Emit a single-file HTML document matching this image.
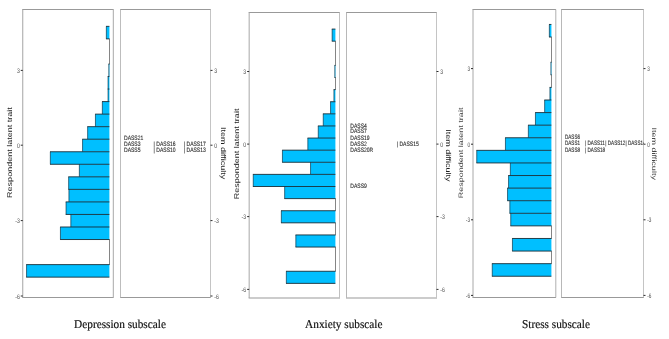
<!DOCTYPE html>
<html><head><meta charset="utf-8"><title>Wright maps</title><style>
html,body{margin:0;padding:0;background:#fff;}
body{width:669px;height:339px;overflow:hidden;}
svg{display:block;will-change:transform;}
text{font-family:"Liberation Sans",sans-serif;text-rendering:geometricPrecision;}
.tk{font-size:6.6px;fill:#4d4d4d;}
.tt{font-size:9.0px;fill:#1a1a1a;}
.it{font-size:6.3px;fill:#2a2a2a;stroke:#2a2a2a;stroke-width:0.12px;}
.cap{font-family:"Liberation Serif",serif;font-size:12px;fill:#111;stroke:#111;stroke-width:0.18px;}
</style></head>
<body>
<svg width="669" height="339" viewBox="0 0 669 339">
<rect width="100%" height="100%" fill="#fff"/>
<line x1="22.25" y1="9.5" x2="113.6" y2="9.5" stroke="#999" stroke-width="1"/>
<line x1="22.25" y1="297.5" x2="113.6" y2="297.5" stroke="#999" stroke-width="1"/>
<line x1="120.0" y1="9.5" x2="211.0" y2="9.5" stroke="#999" stroke-width="1"/>
<line x1="120.0" y1="297.5" x2="211.0" y2="297.5" stroke="#999" stroke-width="1"/>
<line x1="22.75" y1="9.5" x2="22.75" y2="297.5" stroke="#a4a4a4" stroke-width="1"/>
<line x1="113.3" y1="9.5" x2="113.3" y2="297.5" stroke="#a8a8a8" stroke-width="1"/>
<line x1="120.5" y1="9.5" x2="120.5" y2="297.5" stroke="#bdbdbd" stroke-width="1"/>
<line x1="210.5" y1="9.5" x2="210.5" y2="297.5" stroke="#c4c4c4" stroke-width="1"/>
<line x1="109.5" y1="38.49" x2="109.5" y2="51.83" stroke="#858585" stroke-width="1"/>
<line x1="109.5" y1="51.03" x2="109.5" y2="64.37" stroke="#858585" stroke-width="1"/>
<line x1="109.5" y1="239.13" x2="109.5" y2="252.47" stroke="#858585" stroke-width="1"/>
<line x1="109.5" y1="251.67" x2="109.5" y2="265.01" stroke="#858585" stroke-width="1"/>
<rect x="106.3" y="26.35" width="3.10" height="12.54" fill="#00bfff"/>
<line x1="106.35" y1="26.35" x2="106.35" y2="38.89" stroke="#0e3a4e" stroke-width="0.7"/>
<rect x="108.8" y="63.97" width="0.60" height="12.54" fill="#00bfff"/>
<line x1="108.85" y1="63.97" x2="108.85" y2="76.51" stroke="#0e3a4e" stroke-width="0.7"/>
<rect x="108.0" y="76.51" width="1.40" height="12.54" fill="#00bfff"/>
<line x1="108.05" y1="76.51" x2="108.05" y2="89.05" stroke="#0e3a4e" stroke-width="0.7"/>
<rect x="108.0" y="89.05" width="1.40" height="12.54" fill="#00bfff"/>
<line x1="108.05" y1="89.05" x2="108.05" y2="101.59" stroke="#0e3a4e" stroke-width="0.7"/>
<rect x="102.3" y="101.59" width="7.10" height="12.54" fill="#00bfff"/>
<line x1="102.35" y1="101.59" x2="102.35" y2="114.13" stroke="#0e3a4e" stroke-width="0.7"/>
<rect x="95.4" y="114.13" width="14.00" height="12.54" fill="#00bfff"/>
<line x1="95.45" y1="114.13" x2="95.45" y2="126.67" stroke="#0e3a4e" stroke-width="0.7"/>
<rect x="87.6" y="126.67" width="21.80" height="12.54" fill="#00bfff"/>
<line x1="87.65" y1="126.67" x2="87.65" y2="139.21" stroke="#0e3a4e" stroke-width="0.7"/>
<rect x="82.5" y="139.21" width="26.90" height="12.54" fill="#00bfff"/>
<line x1="82.55" y1="139.21" x2="82.55" y2="151.75" stroke="#0e3a4e" stroke-width="0.7"/>
<rect x="50.3" y="151.75" width="59.10" height="12.54" fill="#00bfff"/>
<line x1="50.35" y1="151.75" x2="50.35" y2="164.29" stroke="#0e3a4e" stroke-width="0.7"/>
<rect x="79.3" y="164.29" width="30.10" height="12.54" fill="#00bfff"/>
<line x1="79.35" y1="164.29" x2="79.35" y2="176.83" stroke="#0e3a4e" stroke-width="0.7"/>
<rect x="68.6" y="176.83" width="40.80" height="12.54" fill="#00bfff"/>
<line x1="68.65" y1="176.83" x2="68.65" y2="189.37" stroke="#0e3a4e" stroke-width="0.7"/>
<rect x="68.9" y="189.37" width="40.50" height="12.54" fill="#00bfff"/>
<line x1="68.95" y1="189.37" x2="68.95" y2="201.91" stroke="#0e3a4e" stroke-width="0.7"/>
<rect x="66.0" y="201.91" width="43.40" height="12.54" fill="#00bfff"/>
<line x1="66.05" y1="201.91" x2="66.05" y2="214.45" stroke="#0e3a4e" stroke-width="0.7"/>
<rect x="70.8" y="214.45" width="38.60" height="12.54" fill="#00bfff"/>
<line x1="70.85" y1="214.45" x2="70.85" y2="226.99" stroke="#0e3a4e" stroke-width="0.7"/>
<rect x="60.4" y="226.99" width="49.00" height="12.54" fill="#00bfff"/>
<line x1="60.45" y1="226.99" x2="60.45" y2="239.53" stroke="#0e3a4e" stroke-width="0.7"/>
<rect x="26.5" y="264.61" width="82.90" height="12.54" fill="#00bfff"/>
<line x1="26.55" y1="264.61" x2="26.55" y2="277.15" stroke="#0e3a4e" stroke-width="0.7"/>
<line x1="106.00" y1="26.35" x2="109.40" y2="26.35" stroke="#13232c" stroke-width="0.85"/>
<line x1="106.00" y1="38.89" x2="109.40" y2="38.89" stroke="#13232c" stroke-width="0.85"/>
<line x1="108.50" y1="63.97" x2="109.40" y2="63.97" stroke="#13232c" stroke-width="0.85"/>
<line x1="107.70" y1="76.51" x2="109.40" y2="76.51" stroke="#13232c" stroke-width="0.85"/>
<line x1="107.70" y1="89.05" x2="109.40" y2="89.05" stroke="#13232c" stroke-width="0.85"/>
<line x1="102.00" y1="101.59" x2="109.40" y2="101.59" stroke="#13232c" stroke-width="0.85"/>
<line x1="95.10" y1="114.13" x2="109.40" y2="114.13" stroke="#13232c" stroke-width="0.85"/>
<line x1="87.30" y1="126.67" x2="109.40" y2="126.67" stroke="#13232c" stroke-width="0.85"/>
<line x1="82.20" y1="139.21" x2="109.40" y2="139.21" stroke="#13232c" stroke-width="0.85"/>
<line x1="50.00" y1="151.75" x2="109.40" y2="151.75" stroke="#13232c" stroke-width="0.85"/>
<line x1="50.00" y1="164.29" x2="109.40" y2="164.29" stroke="#13232c" stroke-width="0.85"/>
<line x1="68.30" y1="176.83" x2="109.40" y2="176.83" stroke="#13232c" stroke-width="0.85"/>
<line x1="68.30" y1="189.37" x2="109.40" y2="189.37" stroke="#13232c" stroke-width="0.85"/>
<line x1="65.70" y1="201.91" x2="109.40" y2="201.91" stroke="#13232c" stroke-width="0.85"/>
<line x1="65.70" y1="214.45" x2="109.40" y2="214.45" stroke="#13232c" stroke-width="0.85"/>
<line x1="60.10" y1="226.99" x2="109.40" y2="226.99" stroke="#13232c" stroke-width="0.85"/>
<line x1="60.10" y1="239.53" x2="109.40" y2="239.53" stroke="#13232c" stroke-width="0.85"/>
<line x1="26.20" y1="264.61" x2="109.40" y2="264.61" stroke="#13232c" stroke-width="0.85"/>
<line x1="26.20" y1="277.15" x2="109.40" y2="277.15" stroke="#13232c" stroke-width="0.85"/>
<line x1="20.75" y1="70.4" x2="22.75" y2="70.4" stroke="#2a2a2a" stroke-width="1"/>
<line x1="210.5" y1="70.4" x2="212.5" y2="70.4" stroke="#2a2a2a" stroke-width="1"/>
<text transform="translate(19.75,73.00) scale(0.780,1)" text-anchor="end" class="tk">3</text>
<text transform="translate(214.30,73.00) scale(0.780,1)" class="tk">3</text>
<line x1="20.75" y1="145.2" x2="22.75" y2="145.2" stroke="#2a2a2a" stroke-width="1"/>
<line x1="210.5" y1="145.2" x2="212.5" y2="145.2" stroke="#2a2a2a" stroke-width="1"/>
<text transform="translate(19.75,147.80) scale(0.780,1)" text-anchor="end" class="tk">0</text>
<text transform="translate(214.30,147.80) scale(0.780,1)" class="tk">0</text>
<line x1="20.75" y1="220.6" x2="22.75" y2="220.6" stroke="#2a2a2a" stroke-width="1"/>
<line x1="210.5" y1="220.6" x2="212.5" y2="220.6" stroke="#2a2a2a" stroke-width="1"/>
<text transform="translate(19.75,223.20) scale(0.780,1)" text-anchor="end" class="tk">-3</text>
<text transform="translate(214.30,223.20) scale(0.780,1)" class="tk">-3</text>
<line x1="20.75" y1="296.0" x2="22.75" y2="296.0" stroke="#2a2a2a" stroke-width="1"/>
<line x1="210.5" y1="296.0" x2="212.5" y2="296.0" stroke="#2a2a2a" stroke-width="1"/>
<text transform="translate(19.75,298.60) scale(0.780,1)" text-anchor="end" class="tk">-6</text>
<text transform="translate(214.30,298.60) scale(0.780,1)" class="tk">-6</text>
<text transform="translate(12.2,152.6) rotate(-90) scale(1,0.780)" text-anchor="middle" class="tt">Respondent latent trait</text>
<text transform="translate(220.6,153.1) rotate(90) scale(1,0.780)" text-anchor="middle" class="tt">Item difficulty</text>
<clipPath id="c0"><rect x="120.5" y="9.5" width="90.00" height="288.00"/></clipPath><g clip-path="url(#c0)">
<text transform="translate(124.0,140.47) scale(0.800,1)" class="it">DASS21</text>
<text transform="translate(124.0,145.52) scale(0.800,1)" class="it">DASS3</text>
<text transform="translate(124.0,151.62) scale(0.800,1)" class="it">DASS5</text>
<text transform="translate(153.6,145.52) scale(0.800,1)" class="it">| DASS16</text>
<text transform="translate(153.6,151.62) scale(0.800,1)" class="it">| DASS10</text>
<text transform="translate(183.8,145.52) scale(0.800,1)" class="it">| DASS17</text>
<text transform="translate(183.8,151.62) scale(0.800,1)" class="it">| DASS13</text>
</g>
<text transform="translate(120.0,327.8) scale(0.94,1)" text-anchor="middle" class="cap">Depression subscale</text>
<line x1="248.66" y1="12.5" x2="340.0" y2="12.5" stroke="#999" stroke-width="1"/>
<line x1="248.66" y1="298.0" x2="340.0" y2="298.0" stroke="#999" stroke-width="1"/>
<line x1="346.0" y1="12.5" x2="437.0" y2="12.5" stroke="#999" stroke-width="1"/>
<line x1="346.0" y1="298.0" x2="437.0" y2="298.0" stroke="#999" stroke-width="1"/>
<line x1="249.16" y1="12.5" x2="249.16" y2="298.0" stroke="#a8a8a8" stroke-width="1"/>
<line x1="339.5" y1="12.5" x2="339.5" y2="298.0" stroke="#c0c0c0" stroke-width="1"/>
<line x1="346.5" y1="12.5" x2="346.5" y2="298.0" stroke="#b8b8b8" stroke-width="1"/>
<line x1="436.5" y1="12.5" x2="436.5" y2="298.0" stroke="#c4c4c4" stroke-width="1"/>
<line x1="335.5" y1="40.78" x2="335.5" y2="53.69" stroke="#858585" stroke-width="1"/>
<line x1="335.5" y1="52.89" x2="335.5" y2="65.80" stroke="#858585" stroke-width="1"/>
<line x1="335.5" y1="77.11" x2="335.5" y2="90.02" stroke="#858585" stroke-width="1"/>
<line x1="335.5" y1="198.21" x2="335.5" y2="211.12" stroke="#858585" stroke-width="1"/>
<line x1="335.5" y1="222.43" x2="335.5" y2="235.34" stroke="#858585" stroke-width="1"/>
<line x1="335.5" y1="246.65" x2="335.5" y2="259.56" stroke="#858585" stroke-width="1"/>
<line x1="335.5" y1="258.76" x2="335.5" y2="271.67" stroke="#858585" stroke-width="1"/>
<rect x="332.1" y="29.07" width="3.30" height="12.11" fill="#00bfff"/>
<line x1="332.15" y1="29.07" x2="332.15" y2="41.18" stroke="#0e3a4e" stroke-width="0.7"/>
<rect x="334.8" y="65.40" width="0.60" height="12.11" fill="#00bfff"/>
<line x1="334.85" y1="65.40" x2="334.85" y2="77.51" stroke="#0e3a4e" stroke-width="0.7"/>
<rect x="333.9" y="89.62" width="1.50" height="12.11" fill="#00bfff"/>
<line x1="333.95" y1="89.62" x2="333.95" y2="101.73" stroke="#0e3a4e" stroke-width="0.7"/>
<rect x="330.5" y="101.73" width="4.90" height="12.11" fill="#00bfff"/>
<line x1="330.55" y1="101.73" x2="330.55" y2="113.84" stroke="#0e3a4e" stroke-width="0.7"/>
<rect x="323.2" y="113.84" width="12.20" height="12.11" fill="#00bfff"/>
<line x1="323.25" y1="113.84" x2="323.25" y2="125.95" stroke="#0e3a4e" stroke-width="0.7"/>
<rect x="318.2" y="125.95" width="17.20" height="12.11" fill="#00bfff"/>
<line x1="318.25" y1="125.95" x2="318.25" y2="138.06" stroke="#0e3a4e" stroke-width="0.7"/>
<rect x="307.8" y="138.06" width="27.60" height="12.11" fill="#00bfff"/>
<line x1="307.85" y1="138.06" x2="307.85" y2="150.17" stroke="#0e3a4e" stroke-width="0.7"/>
<rect x="282.4" y="150.17" width="53.00" height="12.11" fill="#00bfff"/>
<line x1="282.45" y1="150.17" x2="282.45" y2="162.28" stroke="#0e3a4e" stroke-width="0.7"/>
<rect x="310.5" y="162.28" width="24.90" height="12.11" fill="#00bfff"/>
<line x1="310.55" y1="162.28" x2="310.55" y2="174.39" stroke="#0e3a4e" stroke-width="0.7"/>
<rect x="253.2" y="174.39" width="82.20" height="12.11" fill="#00bfff"/>
<line x1="253.25" y1="174.39" x2="253.25" y2="186.50" stroke="#0e3a4e" stroke-width="0.7"/>
<rect x="284.6" y="186.50" width="50.80" height="12.11" fill="#00bfff"/>
<line x1="284.65" y1="186.50" x2="284.65" y2="198.61" stroke="#0e3a4e" stroke-width="0.7"/>
<rect x="281.3" y="210.72" width="54.10" height="12.11" fill="#00bfff"/>
<line x1="281.35" y1="210.72" x2="281.35" y2="222.83" stroke="#0e3a4e" stroke-width="0.7"/>
<rect x="295.8" y="234.94" width="39.60" height="12.11" fill="#00bfff"/>
<line x1="295.85" y1="234.94" x2="295.85" y2="247.05" stroke="#0e3a4e" stroke-width="0.7"/>
<rect x="286.3" y="271.27" width="49.10" height="12.11" fill="#00bfff"/>
<line x1="286.35" y1="271.27" x2="286.35" y2="283.38" stroke="#0e3a4e" stroke-width="0.7"/>
<line x1="331.80" y1="29.07" x2="335.40" y2="29.07" stroke="#13232c" stroke-width="0.85"/>
<line x1="331.80" y1="41.18" x2="335.40" y2="41.18" stroke="#13232c" stroke-width="0.85"/>
<line x1="334.50" y1="65.40" x2="335.40" y2="65.40" stroke="#13232c" stroke-width="0.85"/>
<line x1="334.50" y1="77.51" x2="335.40" y2="77.51" stroke="#13232c" stroke-width="0.85"/>
<line x1="333.60" y1="89.62" x2="335.40" y2="89.62" stroke="#13232c" stroke-width="0.85"/>
<line x1="330.20" y1="101.73" x2="335.40" y2="101.73" stroke="#13232c" stroke-width="0.85"/>
<line x1="322.90" y1="113.84" x2="335.40" y2="113.84" stroke="#13232c" stroke-width="0.85"/>
<line x1="317.90" y1="125.95" x2="335.40" y2="125.95" stroke="#13232c" stroke-width="0.85"/>
<line x1="307.50" y1="138.06" x2="335.40" y2="138.06" stroke="#13232c" stroke-width="0.85"/>
<line x1="282.10" y1="150.17" x2="335.40" y2="150.17" stroke="#13232c" stroke-width="0.85"/>
<line x1="282.10" y1="162.28" x2="335.40" y2="162.28" stroke="#13232c" stroke-width="0.85"/>
<line x1="252.90" y1="174.39" x2="335.40" y2="174.39" stroke="#13232c" stroke-width="0.85"/>
<line x1="252.90" y1="186.50" x2="335.40" y2="186.50" stroke="#13232c" stroke-width="0.85"/>
<line x1="284.30" y1="198.61" x2="335.40" y2="198.61" stroke="#13232c" stroke-width="0.85"/>
<line x1="281.00" y1="210.72" x2="335.40" y2="210.72" stroke="#13232c" stroke-width="0.85"/>
<line x1="281.00" y1="222.83" x2="335.40" y2="222.83" stroke="#13232c" stroke-width="0.85"/>
<line x1="295.50" y1="234.94" x2="335.40" y2="234.94" stroke="#13232c" stroke-width="0.85"/>
<line x1="295.50" y1="247.05" x2="335.40" y2="247.05" stroke="#13232c" stroke-width="0.85"/>
<line x1="286.00" y1="271.27" x2="335.40" y2="271.27" stroke="#13232c" stroke-width="0.85"/>
<line x1="286.00" y1="283.38" x2="335.40" y2="283.38" stroke="#13232c" stroke-width="0.85"/>
<line x1="247.16" y1="71.5" x2="249.16" y2="71.5" stroke="#2a2a2a" stroke-width="1"/>
<line x1="436.5" y1="71.5" x2="438.5" y2="71.5" stroke="#2a2a2a" stroke-width="1"/>
<text transform="translate(246.16,74.10) scale(0.780,1)" text-anchor="end" class="tk">3</text>
<text transform="translate(440.30,74.10) scale(0.780,1)" class="tk">3</text>
<line x1="247.16" y1="144.1" x2="249.16" y2="144.1" stroke="#2a2a2a" stroke-width="1"/>
<line x1="436.5" y1="144.1" x2="438.5" y2="144.1" stroke="#2a2a2a" stroke-width="1"/>
<text transform="translate(246.16,146.70) scale(0.780,1)" text-anchor="end" class="tk">0</text>
<text transform="translate(440.30,146.70) scale(0.780,1)" class="tk">0</text>
<line x1="247.16" y1="216.6" x2="249.16" y2="216.6" stroke="#2a2a2a" stroke-width="1"/>
<line x1="436.5" y1="216.6" x2="438.5" y2="216.6" stroke="#2a2a2a" stroke-width="1"/>
<text transform="translate(246.16,219.20) scale(0.780,1)" text-anchor="end" class="tk">-3</text>
<text transform="translate(440.30,219.20) scale(0.780,1)" class="tk">-3</text>
<line x1="247.16" y1="289.4" x2="249.16" y2="289.4" stroke="#2a2a2a" stroke-width="1"/>
<line x1="436.5" y1="289.4" x2="438.5" y2="289.4" stroke="#2a2a2a" stroke-width="1"/>
<text transform="translate(246.16,292.00) scale(0.780,1)" text-anchor="end" class="tk">-6</text>
<text transform="translate(440.30,292.00) scale(0.780,1)" class="tk">-6</text>
<text transform="translate(239.0,153.9) rotate(-90) scale(1,0.780)" text-anchor="middle" class="tt">Respondent latent trait</text>
<text transform="translate(446.3,155.4) rotate(90) scale(1,0.780)" text-anchor="middle" class="tt">Item difficulty</text>
<clipPath id="c1"><rect x="346.5" y="12.5" width="90.00" height="285.50"/></clipPath><g clip-path="url(#c1)">
<text transform="translate(350.3,127.57) scale(0.800,1)" class="it">DASS4</text>
<text transform="translate(350.3,133.07) scale(0.800,1)" class="it">DASS7</text>
<text transform="translate(350.3,140.27) scale(0.800,1)" class="it">DASS19</text>
<text transform="translate(350.3,146.07) scale(0.800,1)" class="it">DASS2</text>
<text transform="translate(350.3,151.57) scale(0.800,1)" class="it">DASS20R</text>
<text transform="translate(396.7,146.07) scale(0.800,1)" class="it">| DASS15</text>
<text transform="translate(350.3,188.47) scale(0.800,1)" class="it">DASS9</text>
</g>
<text transform="translate(343.8,327.8) scale(0.94,1)" text-anchor="middle" class="cap">Anxiety subscale</text>
<line x1="472.5" y1="9.5" x2="556.0" y2="9.5" stroke="#999" stroke-width="1"/>
<line x1="472.5" y1="297.5" x2="556.0" y2="297.5" stroke="#999" stroke-width="1"/>
<line x1="561.0" y1="9.5" x2="644.0" y2="9.5" stroke="#999" stroke-width="1"/>
<line x1="561.0" y1="297.5" x2="644.0" y2="297.5" stroke="#999" stroke-width="1"/>
<line x1="473.0" y1="9.5" x2="473.0" y2="297.5" stroke="#a8a8a8" stroke-width="1"/>
<line x1="555.8" y1="9.5" x2="555.8" y2="297.5" stroke="#b0b0b0" stroke-width="1"/>
<line x1="561.5" y1="9.5" x2="561.5" y2="297.5" stroke="#b8b8b8" stroke-width="1"/>
<line x1="643.5" y1="9.5" x2="643.5" y2="297.5" stroke="#c4c4c4" stroke-width="1"/>
<line x1="551.5" y1="36.64" x2="551.5" y2="50.03" stroke="#858585" stroke-width="1"/>
<line x1="551.5" y1="49.23" x2="551.5" y2="62.62" stroke="#858585" stroke-width="1"/>
<line x1="551.5" y1="74.41" x2="551.5" y2="87.80" stroke="#858585" stroke-width="1"/>
<line x1="551.5" y1="225.49" x2="551.5" y2="238.88" stroke="#858585" stroke-width="1"/>
<line x1="551.5" y1="250.67" x2="551.5" y2="264.06" stroke="#858585" stroke-width="1"/>
<rect x="549.3" y="24.45" width="2.10" height="12.59" fill="#00bfff"/>
<line x1="549.35" y1="24.45" x2="549.35" y2="37.04" stroke="#0e3a4e" stroke-width="0.7"/>
<rect x="550.9" y="62.22" width="0.50" height="12.59" fill="#00bfff"/>
<line x1="550.95" y1="62.22" x2="550.95" y2="74.81" stroke="#0e3a4e" stroke-width="0.7"/>
<rect x="549.9" y="87.40" width="1.50" height="12.59" fill="#00bfff"/>
<line x1="549.95" y1="87.40" x2="549.95" y2="99.99" stroke="#0e3a4e" stroke-width="0.7"/>
<rect x="544.6" y="99.99" width="6.80" height="12.59" fill="#00bfff"/>
<line x1="544.65" y1="99.99" x2="544.65" y2="112.58" stroke="#0e3a4e" stroke-width="0.7"/>
<rect x="535.4" y="112.58" width="16.00" height="12.59" fill="#00bfff"/>
<line x1="535.45" y1="112.58" x2="535.45" y2="125.17" stroke="#0e3a4e" stroke-width="0.7"/>
<rect x="528.3" y="125.17" width="23.10" height="12.59" fill="#00bfff"/>
<line x1="528.35" y1="125.17" x2="528.35" y2="137.76" stroke="#0e3a4e" stroke-width="0.7"/>
<rect x="505.4" y="137.76" width="46.00" height="12.59" fill="#00bfff"/>
<line x1="505.45" y1="137.76" x2="505.45" y2="150.35" stroke="#0e3a4e" stroke-width="0.7"/>
<rect x="476.7" y="150.35" width="74.70" height="12.59" fill="#00bfff"/>
<line x1="476.75" y1="150.35" x2="476.75" y2="162.94" stroke="#0e3a4e" stroke-width="0.7"/>
<rect x="510.3" y="162.94" width="41.10" height="12.59" fill="#00bfff"/>
<line x1="510.35" y1="162.94" x2="510.35" y2="175.53" stroke="#0e3a4e" stroke-width="0.7"/>
<rect x="508.5" y="175.53" width="42.90" height="12.59" fill="#00bfff"/>
<line x1="508.55" y1="175.53" x2="508.55" y2="188.12" stroke="#0e3a4e" stroke-width="0.7"/>
<rect x="507.5" y="188.12" width="43.90" height="12.59" fill="#00bfff"/>
<line x1="507.55" y1="188.12" x2="507.55" y2="200.71" stroke="#0e3a4e" stroke-width="0.7"/>
<rect x="509.8" y="200.71" width="41.60" height="12.59" fill="#00bfff"/>
<line x1="509.85" y1="200.71" x2="509.85" y2="213.30" stroke="#0e3a4e" stroke-width="0.7"/>
<rect x="510.7" y="213.30" width="40.70" height="12.59" fill="#00bfff"/>
<line x1="510.75" y1="213.30" x2="510.75" y2="225.89" stroke="#0e3a4e" stroke-width="0.7"/>
<rect x="512.4" y="238.48" width="39.00" height="12.59" fill="#00bfff"/>
<line x1="512.45" y1="238.48" x2="512.45" y2="251.07" stroke="#0e3a4e" stroke-width="0.7"/>
<rect x="492.2" y="263.66" width="59.20" height="12.59" fill="#00bfff"/>
<line x1="492.25" y1="263.66" x2="492.25" y2="276.25" stroke="#0e3a4e" stroke-width="0.7"/>
<line x1="549.00" y1="24.45" x2="551.40" y2="24.45" stroke="#13232c" stroke-width="0.85"/>
<line x1="549.00" y1="37.04" x2="551.40" y2="37.04" stroke="#13232c" stroke-width="0.85"/>
<line x1="550.60" y1="62.22" x2="551.40" y2="62.22" stroke="#13232c" stroke-width="0.85"/>
<line x1="550.60" y1="74.81" x2="551.40" y2="74.81" stroke="#13232c" stroke-width="0.85"/>
<line x1="549.60" y1="87.40" x2="551.40" y2="87.40" stroke="#13232c" stroke-width="0.85"/>
<line x1="544.30" y1="99.99" x2="551.40" y2="99.99" stroke="#13232c" stroke-width="0.85"/>
<line x1="535.10" y1="112.58" x2="551.40" y2="112.58" stroke="#13232c" stroke-width="0.85"/>
<line x1="528.00" y1="125.17" x2="551.40" y2="125.17" stroke="#13232c" stroke-width="0.85"/>
<line x1="505.10" y1="137.76" x2="551.40" y2="137.76" stroke="#13232c" stroke-width="0.85"/>
<line x1="476.40" y1="150.35" x2="551.40" y2="150.35" stroke="#13232c" stroke-width="0.85"/>
<line x1="476.40" y1="162.94" x2="551.40" y2="162.94" stroke="#13232c" stroke-width="0.85"/>
<line x1="508.20" y1="175.53" x2="551.40" y2="175.53" stroke="#13232c" stroke-width="0.85"/>
<line x1="507.20" y1="188.12" x2="551.40" y2="188.12" stroke="#13232c" stroke-width="0.85"/>
<line x1="507.20" y1="200.71" x2="551.40" y2="200.71" stroke="#13232c" stroke-width="0.85"/>
<line x1="509.50" y1="213.30" x2="551.40" y2="213.30" stroke="#13232c" stroke-width="0.85"/>
<line x1="510.40" y1="225.89" x2="551.40" y2="225.89" stroke="#13232c" stroke-width="0.85"/>
<line x1="512.10" y1="238.48" x2="551.40" y2="238.48" stroke="#13232c" stroke-width="0.85"/>
<line x1="512.10" y1="251.07" x2="551.40" y2="251.07" stroke="#13232c" stroke-width="0.85"/>
<line x1="491.90" y1="263.66" x2="551.40" y2="263.66" stroke="#13232c" stroke-width="0.85"/>
<line x1="491.90" y1="276.25" x2="551.40" y2="276.25" stroke="#13232c" stroke-width="0.85"/>
<line x1="471.0" y1="68.6" x2="473.0" y2="68.6" stroke="#2a2a2a" stroke-width="1"/>
<line x1="643.5" y1="68.6" x2="645.5" y2="68.6" stroke="#2a2a2a" stroke-width="1"/>
<text transform="translate(470.00,71.20) scale(0.710,1)" text-anchor="end" class="tk">3</text>
<text transform="translate(647.30,71.20) scale(0.710,1)" class="tk">3</text>
<line x1="471.0" y1="144.2" x2="473.0" y2="144.2" stroke="#2a2a2a" stroke-width="1"/>
<line x1="643.5" y1="144.2" x2="645.5" y2="144.2" stroke="#2a2a2a" stroke-width="1"/>
<text transform="translate(470.00,146.80) scale(0.710,1)" text-anchor="end" class="tk">0</text>
<text transform="translate(647.30,146.80) scale(0.710,1)" class="tk">0</text>
<line x1="471.0" y1="219.8" x2="473.0" y2="219.8" stroke="#2a2a2a" stroke-width="1"/>
<line x1="643.5" y1="219.8" x2="645.5" y2="219.8" stroke="#2a2a2a" stroke-width="1"/>
<text transform="translate(470.00,222.40) scale(0.710,1)" text-anchor="end" class="tk">-3</text>
<text transform="translate(647.30,222.40) scale(0.710,1)" class="tk">-3</text>
<line x1="471.0" y1="295.4" x2="473.0" y2="295.4" stroke="#2a2a2a" stroke-width="1"/>
<line x1="643.5" y1="295.4" x2="645.5" y2="295.4" stroke="#2a2a2a" stroke-width="1"/>
<text transform="translate(470.00,298.00) scale(0.710,1)" text-anchor="end" class="tk">-6</text>
<text transform="translate(647.30,298.00) scale(0.710,1)" class="tk">-6</text>
<text transform="translate(462.9,152.9) rotate(-90) scale(1,0.710)" text-anchor="middle" class="tt" style="fill:#454545">Respondent latent trait</text>
<text transform="translate(652.4,153.7) rotate(90) scale(1,0.710)" text-anchor="middle" class="tt" style="fill:#454545">Item difficulty</text>
<clipPath id="c2"><rect x="561.5" y="9.5" width="82.00" height="288.00"/></clipPath><g clip-path="url(#c2)">
<text transform="translate(565.0,138.77) scale(0.728,1)" class="it">DASS6</text>
<text transform="translate(565.0,145.37) scale(0.728,1)" class="it">DASS1</text>
<text transform="translate(565.0,151.77) scale(0.728,1)" class="it">DASS8</text>
<text transform="translate(585.1,145.37) scale(0.728,1)" class="it">| DASS11</text>
<text transform="translate(605.3,145.37) scale(0.728,1)" class="it">| DASS12</text>
<text transform="translate(625.5,145.37) scale(0.728,1)" class="it">| DASS14</text>
<text transform="translate(585.1,151.77) scale(0.728,1)" class="it">| DASS18</text>
</g>
<text transform="translate(556.0,327.8) scale(0.94,1)" text-anchor="middle" class="cap">Stress subscale</text>
</svg>
</body></html>
